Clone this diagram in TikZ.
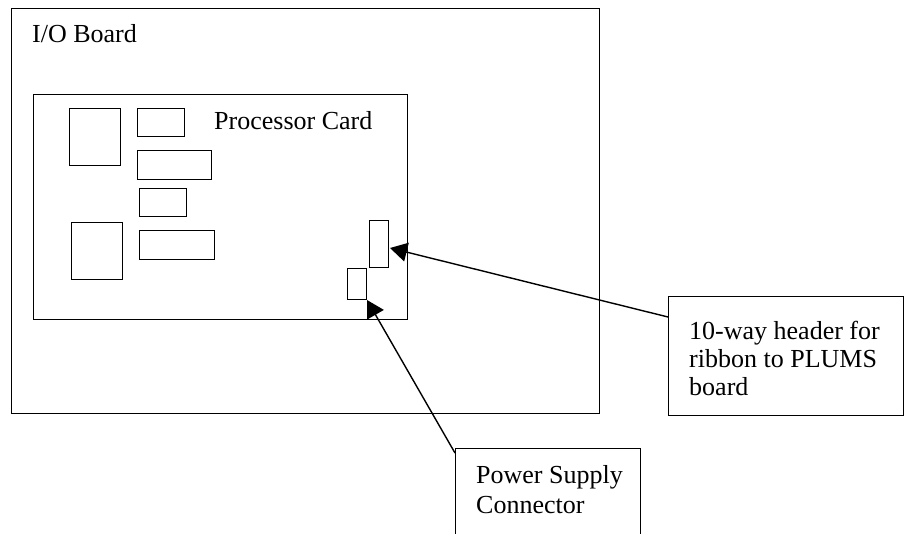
\documentclass[tikz,border=0pt]{standalone}
\usepackage{fontspec}
\setmainfont{Liberation Serif}
\usetikzlibrary{arrows.meta}
\begin{document}
\begin{tikzpicture}[x=1pt,y=-1pt,
  box/.style={draw=black, line width=1.4pt, inner sep=0pt, anchor=north west, fill=none},
  lbl/.style={anchor=base west, inner sep=0pt, font=\fontsize{26}{28}\selectfont},
  arr/.style={line width=1.4pt, -{Triangle[length=17pt,width=19pt]}}]
\useasboundingbox (0,0) rectangle (904,534);
\clip (0,0) rectangle (904,534);
% I/O board
\node[box, minimum width=588pt, minimum height=405pt] (io) at (11,8) {};
\node[lbl] (iotxt) at (32,43) {I/O Board};
% processor card
\node[box, minimum width=374pt, minimum height=225pt] (pc) at (33,94) {};
\node[lbl] (pctxt) at (214,130) {Processor Card};
% components
\node[box, minimum width=51pt, minimum height=57pt] (c1) at (69,108) {};
\node[box, minimum width=47pt, minimum height=28pt] (c2) at (137,108) {};
\node[box, minimum width=74pt, minimum height=29pt] (c3) at (137,150) {};
\node[box, minimum width=47pt, minimum height=28pt] (c4) at (139,188) {};
\node[box, minimum width=51pt, minimum height=57pt] (c5) at (71,222) {};
\node[box, minimum width=75pt, minimum height=29pt] (c6) at (139,230) {};
% connectors on card
\node[box, minimum width=19pt, minimum height=47pt] (hdr) at (369,220) {};
\node[box, minimum width=19pt, minimum height=31pt] (psc) at (347,268) {};
% label boxes
\node[box, minimum width=235pt, minimum height=119pt] (hdrlab) at (668,296) {};
\node[lbl] (h1) at (689,339) {10-way header for};
\node[lbl] (h2) at (689,367) {ribbon to PLUMS};
\node[lbl] (h3) at (689,395) {board};
\node[box, minimum width=185pt, minimum height=110pt] (pslab) at (455,448) {};
\node[lbl] (p1) at (476,483) {Power Supply};
\node[lbl] (p2) at (476,513) {Connector};
% arrows
\coordinate (hdrfrom) at (668,317);
\coordinate (hdrto) at (390,248);
\coordinate (psfrom) at (455,453);
\coordinate (psto) at (367,300);
\draw[arr] (hdrfrom) -- (hdrto);
\draw[arr] (psfrom) -- (psto);
\end{tikzpicture}
\end{document}
